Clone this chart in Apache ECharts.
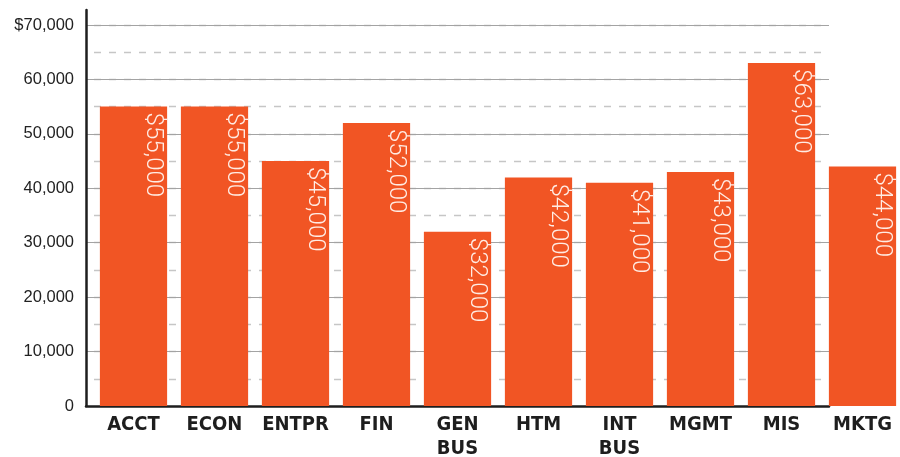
<!DOCTYPE html>
<html>
<head>
<meta charset="utf-8">
<script src="https://cdn.jsdelivr.net/npm/echarts@6/dist/echarts.min.js"></script>
<style>
html,body{margin:0;padding:0;background:#fff;}
#chart{width:900px;height:457px;}
</style>
</head>
<body>
<div id="chart"></div>
<script>
const categories = ['ACCT', 'ECON', 'ENTPR', 'FIN', 'GEN BUS', 'HTM', 'INT BUS', 'MGMT', 'MIS', 'MKTG'];
const salaries = [55000, 55000, 45000, 52000, 32000, 42000, 41000, 43000, 63000, 44000];
const yTickLabels = ['0', '10,000', '20,000', '30,000', '40,000', '50,000', '60,000', '$70,000'];

const BAR = '#F15524';
const yMax = 72750;

const chart = echarts.init(document.getElementById('chart'), null, {renderer: 'canvas'});

const mainCats = categories.slice(0, 9);
const mainVals = salaries.slice(0, 9);
const lastCats = categories.slice(9);
const lastVals = salaries.slice(9);

const catLabel = {
  fontFamily: '"Liberation Sans Narrow", "DejaVu Sans Condensed", sans-serif',
  fontWeight: 'bold',
  fontSize: 20,
  color: '#1e1e1e',
  lineHeight: 24,
  margin: 7,
  interval: 0,
  formatter: v => v.replace(' ', '\n')
};

const barLabel = {
  show: true,
  position: 'insideTop',
  distance: 6,
  rotate: -90,
  align: 'left',
  verticalAlign: 'middle',
  offset: [0, -19],
  color: '#ffece4',
  fontFamily: 'Roboto, "Liberation Sans", sans-serif',
  fontWeight: 300,
  fontSize: 24,
  formatter: p => '$' + p.value.toLocaleString('en-US')
};

const gridBase = {top: 10, height: 396, containLabel: false, outerBoundsMode: 'none'};

chart.setOption({
  animation: false,
  backgroundColor: '#ffffff',
  grid: [
    Object.assign({left: 93, width: 729}, gridBase),   // bars ACCT..MIS
    Object.assign({left: 822, width: 81}, gridBase),   // bar MKTG (outside the ruled frame)
    Object.assign({left: 86, width: 743}, gridBase)    // ruled frame: axes + gridlines
  ],
  xAxis: [
    {
      type: 'category', gridIndex: 0, data: mainCats,
      axisLine: {show: false}, axisTick: {show: false},
      axisLabel: catLabel, splitLine: {show: false}
    },
    {
      type: 'category', gridIndex: 1, data: lastCats,
      axisLine: {show: false}, axisTick: {show: false},
      axisLabel: catLabel, splitLine: {show: false}
    },
    {
      type: 'value', gridIndex: 2, min: 0, max: 1,
      axisLine: {show: true, onZero: false, lineStyle: {color: '#1e1e1e', width: 2.5}},
      axisTick: {show: false}, axisLabel: {show: false}, splitLine: {show: false}
    }
  ],
  yAxis: [
    {
      type: 'value', gridIndex: 0, min: 0, max: yMax, show: false, splitLine: {show: false}
    },
    {
      type: 'value', gridIndex: 1, min: 0, max: yMax, show: false, splitLine: {show: false}
    },
    {
      type: 'value', gridIndex: 2, position: 'left', min: 0, max: yMax, interval: 5000,
      axisLine: {show: false}, axisTick: {show: false}, axisLabel: {show: false},
      splitLine: {show: true, showMinLine: false, showMaxLine: false,
        lineStyle: {color: '#c6c6c6', width: 1.3, type: [7, 8], dashOffset: 7}}
    },
    {
      type: 'value', gridIndex: 2, position: 'left', min: 0, max: yMax, interval: 10000,
      axisLine: {show: true, onZero: false, lineStyle: {color: '#1e1e1e', width: 2.5}},
      axisTick: {show: false},
      axisLabel: {
        show: true, margin: 12, color: '#222',
        fontFamily: '"Liberation Sans", Arial, sans-serif', fontSize: 16.5,
        formatter: v => (v % 10000 === 0 ? (yTickLabels[v / 10000] || '') : '')
      },
      splitLine: {show: true, showMinLine: false, showMaxLine: false,
        lineStyle: {color: '#a3a3a3', width: 1.2, type: 'solid'}}
    }
  ],
  series: [
    {
      type: 'bar', xAxisIndex: 0, yAxisIndex: 0, data: mainVals,
      barCategoryGap: '17%',
      itemStyle: {color: BAR},
      label: barLabel
    },
    {
      type: 'bar', xAxisIndex: 1, yAxisIndex: 1, data: lastVals,
      barCategoryGap: '17%',
      itemStyle: {color: BAR},
      label: barLabel
    }
  ]
});
</script>
</body>
</html>
